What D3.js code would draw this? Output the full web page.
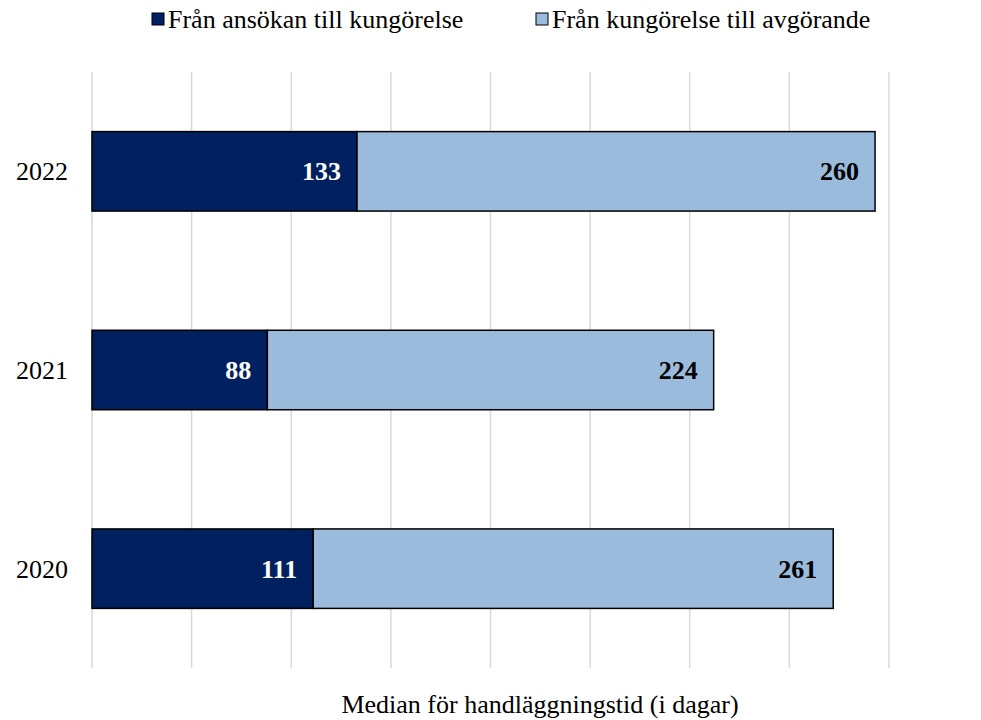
<!DOCTYPE html>
<html>
<head>
<meta charset="utf-8">
<script src="https://cdn.jsdelivr.net/npm/d3@7"></script>
<style>
  body { margin: 0; background: #fff; }
  svg text { font-family: "Liberation Serif", "Times New Roman", serif; }
</style>
</head>
<body>
<div id="chart-container"></div>
<script>
// Data
const years = ["2022", "2021", "2020"];
const toAnnouncement = [133, 88, 111];
const toDecision = [260, 224, 261];
const seriesNames = ["Från ansökan till kungörelse", "Från kungörelse till avgörande"];
const seriesColors = ["#002060", "#9BBBDD"];
const gridTicks = [0, 50, 100, 150, 200, 250, 300, 350, 400];

const margin = { top: 72, right: 92, bottom: 52, left: 92 };
const width = 981 - margin.left - margin.right;
const height = 720 - margin.top - margin.bottom;
const fontSize = 26;

const svg = d3.select("#chart-container")
    .append("svg")
    .attr("width", 981)
    .attr("height", 720)
    .attr("font-family", "'Liberation Serif', 'Times New Roman', serif");

const g = svg.append("g")
    .attr("transform", `translate(${margin.left},${margin.top})`);

const x = d3.scaleLinear().domain([0, 400]).range([0, width]);
const y = d3.scaleBand().domain(years).range([0, height]).paddingInner(0.6).paddingOuter(0.3);

// Gridlines
g.selectAll(".grid")
    .data(gridTicks)
    .enter().append("line")
    .attr("x1", d => x(d)).attr("x2", d => x(d))
    .attr("y1", 0).attr("y2", height)
    .attr("stroke", "#d9d9d9")
    .attr("stroke-width", 1.5);

// Stacked data
const rows = years.map((yr, i) => ({ year: yr, a: toAnnouncement[i], b: toDecision[i] }));

// First segment
g.selectAll(".segA")
    .data(rows)
    .enter().append("rect")
    .attr("x", x(0))
    .attr("y", d => y(d.year))
    .attr("width", d => x(d.a) - x(0))
    .attr("height", y.bandwidth())
    .attr("fill", seriesColors[0])
    .attr("stroke", "#000")
    .attr("stroke-width", 1.5);

// Second segment
g.selectAll(".segB")
    .data(rows)
    .enter().append("rect")
    .attr("x", d => x(d.a))
    .attr("y", d => y(d.year))
    .attr("width", d => x(d.a + d.b) - x(d.a))
    .attr("height", y.bandwidth())
    .attr("fill", seriesColors[1])
    .attr("stroke", "#000")
    .attr("stroke-width", 1.5);

// Value labels
g.selectAll(".labA")
    .data(rows)
    .enter().append("text")
    .attr("x", d => x(d.a) - 16)
    .attr("y", d => y(d.year) + y.bandwidth() / 2)
    .attr("dy", "0.35em")
    .attr("text-anchor", "end")
    .attr("font-weight", "bold")
    .attr("font-size", fontSize)
    .attr("fill", "#fff")
    .text(d => d.a);

g.selectAll(".labB")
    .data(rows)
    .enter().append("text")
    .attr("x", d => x(d.a + d.b) - 16)
    .attr("y", d => y(d.year) + y.bandwidth() / 2)
    .attr("dy", "0.35em")
    .attr("text-anchor", "end")
    .attr("font-weight", "bold")
    .attr("font-size", fontSize)
    .attr("fill", "#000")
    .text(d => d.b);

// Category labels
g.selectAll(".ylab")
    .data(years)
    .enter().append("text")
    .attr("x", -24)
    .attr("y", d => y(d) + y.bandwidth() / 2)
    .attr("dy", "0.35em")
    .attr("text-anchor", "end")
    .attr("font-size", fontSize)
    .attr("fill", "#000")
    .text(d => d);

// Axis title
svg.append("text")
    .attr("x", 540)
    .attr("y", 713)
    .attr("text-anchor", "middle")
    .attr("font-size", fontSize)
    .attr("fill", "#000")
    .text("Median för handläggningstid (i dagar)");

// Legend
const legendX = [152, 536];
const legend = svg.selectAll(".legend")
    .data(seriesNames)
    .enter().append("g")
    .attr("transform", (d, i) => `translate(${legendX[i]},13)`);

legend.append("rect")
    .attr("width", 12)
    .attr("height", 12)
    .attr("fill", (d, i) => seriesColors[i])
    .attr("stroke", "#000")
    .attr("stroke-width", 1);

legend.append("text")
    .attr("x", 16)
    .attr("y", 6)
    .attr("dy", "0.35em")
    .attr("font-size", fontSize)
    .attr("fill", "#000")
    .text(d => d);
</script>
</body>
</html>
